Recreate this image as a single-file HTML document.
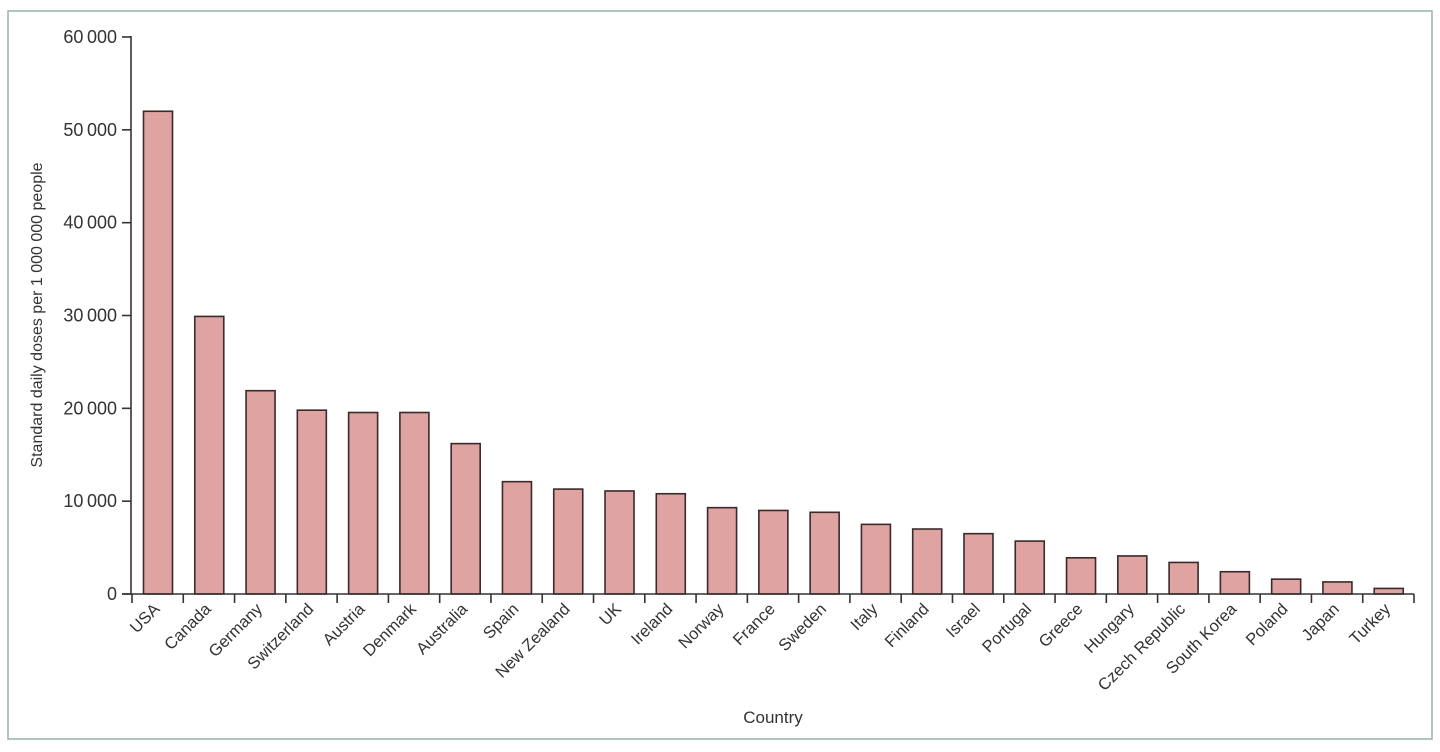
<!DOCTYPE html>
<html><head><meta charset="utf-8"><style>
html,body{margin:0;padding:0;background:#fff;}
svg{display:block;font-family:"Liberation Sans","DejaVu Sans",sans-serif;}
</style></head><body>
<svg width="1440" height="752" viewBox="0 0 1440 752" xmlns="http://www.w3.org/2000/svg">
<rect x="8" y="11" width="1424" height="728" fill="#fff" stroke="#8fb5ab" stroke-width="1.5"/>
<g id="bars" fill="#dfa3a2" stroke="#3a2a2a" stroke-width="1.6"></g>
<g stroke="#333" stroke-width="1.6" fill="none">
<line x1="131" y1="36" x2="131" y2="594"/>
<line x1="122" y1="594" x2="1414" y2="594"/>
</g>
<g id="ticks" stroke="#333" stroke-width="1.6"></g>
<g id="ylab" font-size="18" fill="#333" text-anchor="end"></g>
<g id="xlab" font-size="16.5" fill="#333" text-anchor="end"></g>
<text x="42" y="315" font-size="16" fill="#333" text-anchor="middle" transform="rotate(-90 42 315)">Standard daily doses per 1 000 000 people</text>
<text x="773" y="723" font-size="17" fill="#333" text-anchor="middle">Country</text>
</svg>
<script>
var names=["USA","Canada","Germany","Switzerland","Austria","Denmark","Australia","Spain","New Zealand","UK","Ireland","Norway","France","Sweden","Italy","Finland","Israel","Portugal","Greece","Hungary","Czech Republic","South Korea","Poland","Japan","Turkey"];
var vals=[52000,29900,21900,19800,19550,19550,16200,12100,11300,11100,10800,9300,9000,8800,7500,7000,6500,5700,3900,4100,3400,2400,1600,1300,600];
var NS="http://www.w3.org/2000/svg";
function el(t,a,p,txt){var e=document.createElementNS(NS,t);for(var k in a)e.setAttribute(k,a[k]);if(txt)e.textContent=txt;document.getElementById(p).appendChild(e);}
var y0=594,s=557/60000,step=51.28;
for(var i=0;i<=25;i++){var x=132+i*step;el("line",{x1:x,y1:594,x2:x,y2:603},"ticks");}
for(var i=0;i<25;i++){var x=132+i*step;var h=vals[i]*s;el("rect",{x:x+11.5,y:y0-h,width:29,height:h},"bars");
var cx=x+step/2+3;el("text",{x:cx,y:610,transform:"rotate(-45 "+cx+" 610)"},"xlab",names[i]);}
var yl=["0","10\u2009000","20\u2009000","30\u2009000","40\u2009000","50\u2009000","60\u2009000"];
for(var j=0;j<=6;j++){var y=y0-j*10000*s;el("line",{x1:122,y1:y,x2:131,y2:y},"ticks");el("text",{x:117,y:y+6},"ylab",yl[j]);}
</script>
</body></html>
